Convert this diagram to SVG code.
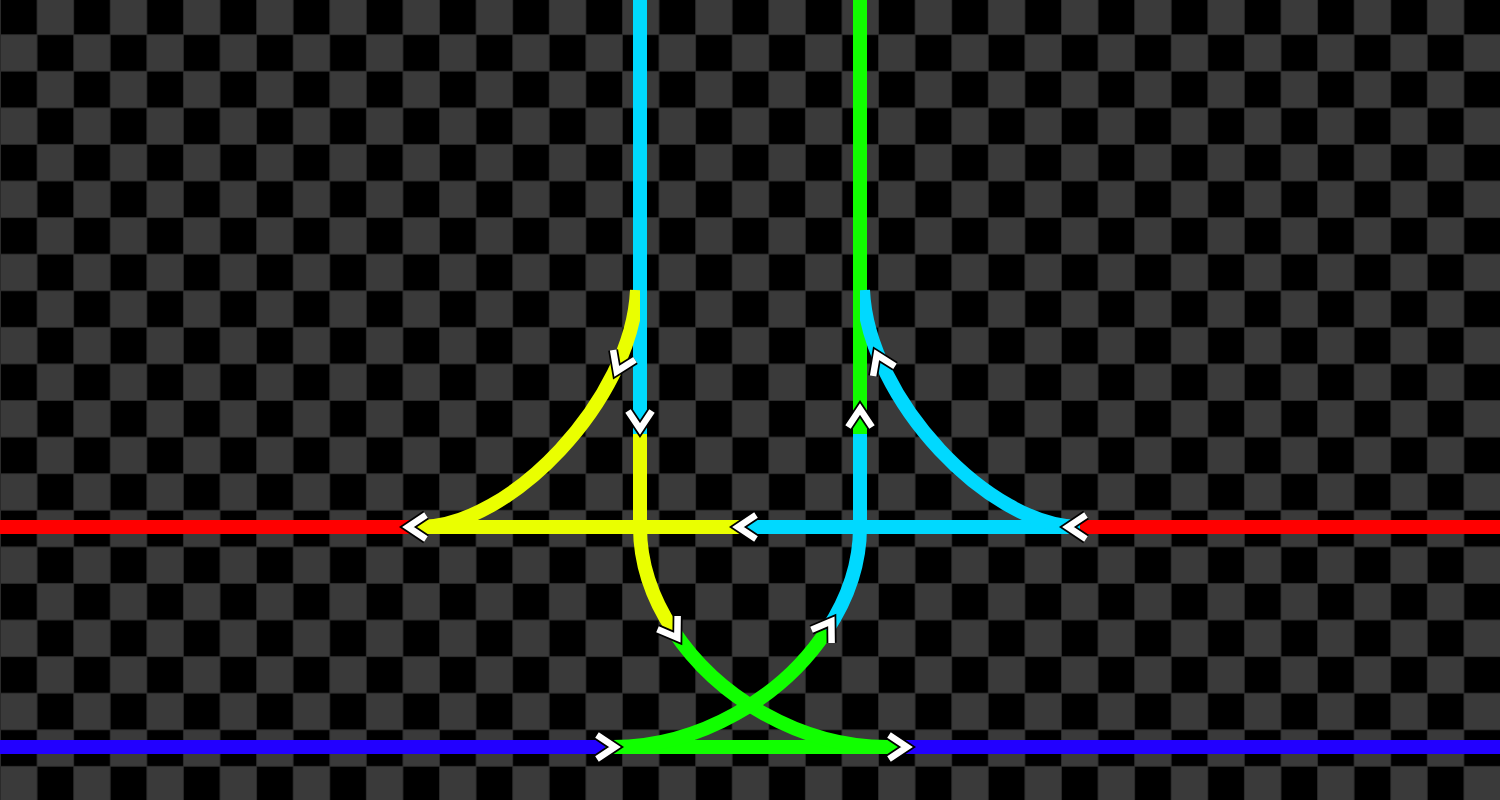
<svg xmlns="http://www.w3.org/2000/svg" xmlns:xlink="http://www.w3.org/1999/xlink" width="1500" height="800" viewBox="0 0 1500 800">
  <defs>
    <pattern id="checker" patternUnits="userSpaceOnUse" x="0" y="-2.415" width="73.17" height="73.17">
      <rect width="73.17" height="73.17" fill="#000"/>
      <rect x="36.585" y="0" width="36.585" height="36.585" fill="#3a3a3a"/>
      <rect x="0" y="36.585" width="36.585" height="36.585" fill="#3a3a3a"/>
      <path d="M0 0.5 H73.17 M0 37.085 H73.17 M0.5 0 V73.17 M37.085 0 V73.17" stroke="#2a2a2a" stroke-width="1" fill="none"/>
    </pattern>
    <clipPath id="clipLeft"><rect x="0" y="0" width="640" height="800"/></clipPath>
    <clipPath id="clipRight"><rect x="860" y="0" width="640" height="800"/></clipPath>
    <g id="chev">
      <path d="M -10 -12 L 8 0 L -10 12" fill="none" stroke="#000" stroke-width="10" stroke-linejoin="miter"/>
      <path d="M -10 -12 L 8 0 L -10 12" fill="none" stroke="#fff" stroke-width="6.5" stroke-linejoin="miter"/>
    </g>
    <style>
      .t { fill: none; stroke-width: 14; stroke-linecap: butt; stroke-linejoin: round; }
      .red { stroke: #ff0000; }
      .yel { stroke: #eaff00; }
      .cya { stroke: #00d9ff; }
      .grn { stroke: #11ff00; }
      .blu { stroke: #2200ff; }
    </style>
  </defs>

  <rect id="background" x="0" y="0" width="1500" height="800" fill="url(#checker)"/>

  <g id="connectors">
    <path class="t red" d="M0 527 H420"/>
    <path class="t red" d="M1073 527 H1500"/>
    <path class="t yel" d="M416 527 H748"/>
    <path class="t cya" d="M746 527 H1077"/>
    <path class="t cya" d="M640 0 V436"/>
    <path class="t grn" d="M860 0 V436"/>
    <path class="t blu" d="M0 747 H609"/>
    <path class="t blu" d="M897 747 H1500"/>
    <path class="t grn" d="M605 747 H901"/>
    <path class="t grn" d="M673.16 630.33 C717.52 697.52 800.64 747 887 747"/>
    <path class="t grn" d="M826.84 630.33 C782.48 697.52 699.36 747 613 747"/>
    <path class="t yel" d="M640 434 V527 C640 563.16 652.29 598.71 673.16 630.33"/>
    <path class="t cya" d="M860 434 V527 C860 563.16 847.71 598.71 826.84 630.33"/>
    <path class="t yel" clip-path="url(#clipLeft)" d="M637 290 C632 400 510 527 420 527"/>
    <path class="t cya" clip-path="url(#clipRight)" d="M863 290 C868 400 990 527 1080 527"/>
  </g>

  <g id="arrows">
    <use xlink:href="#chev" transform="translate(416,527) rotate(180)"/>
    <use xlink:href="#chev" transform="translate(746,527) rotate(180)"/>
    <use xlink:href="#chev" transform="translate(1076,527) rotate(180)"/>
    <use xlink:href="#chev" transform="translate(640,421) rotate(90)"/>
    <use xlink:href="#chev" transform="translate(860,417) rotate(-90)"/>
    <use xlink:href="#chev" transform="translate(620,364) rotate(114)"/>
    <use xlink:href="#chev" transform="translate(880,362) rotate(-114)"/>
    <use xlink:href="#chev" transform="translate(673,631) rotate(57)"/>
    <use xlink:href="#chev" transform="translate(827,628) rotate(-57)"/>
    <use xlink:href="#chev" transform="translate(607,747)"/>
    <use xlink:href="#chev" transform="translate(899,747)"/>
  </g>
</svg>
